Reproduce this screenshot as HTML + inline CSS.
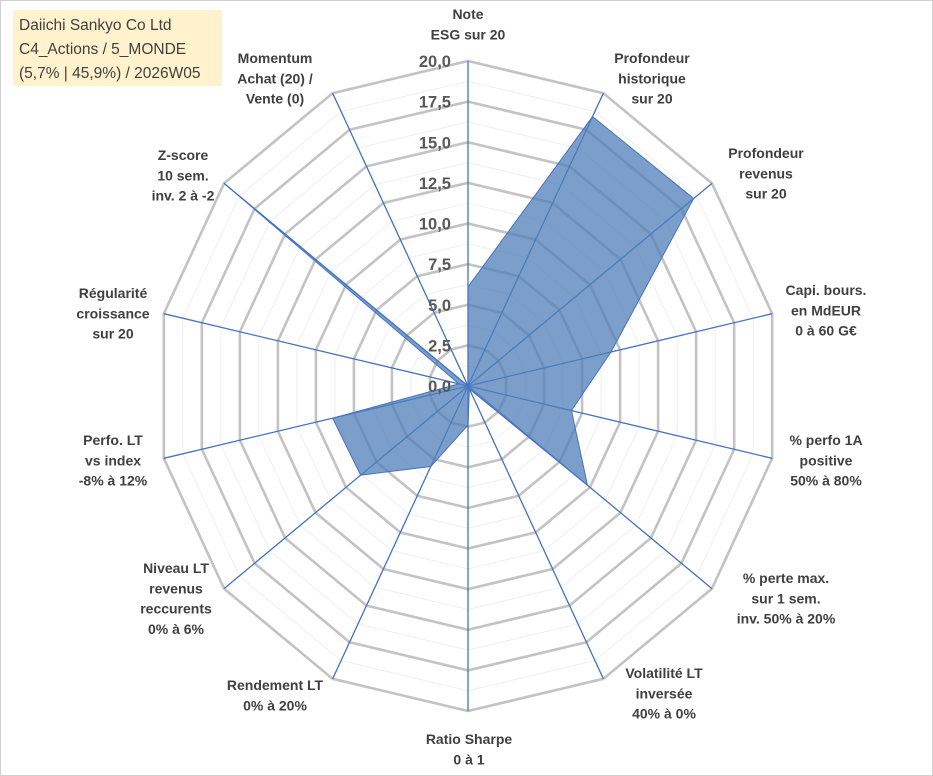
<!DOCTYPE html>
<html><head><meta charset="utf-8"><style>
html,body{margin:0;padding:0;background:#fff;}
svg{display:block;font-family:"Liberation Sans",sans-serif;}
</style></head><body>
<svg id="chart" width="933" height="776" viewBox="0 0 933 776">
<rect x="0.5" y="0.5" width="932" height="775" fill="#fff" stroke="#d0d0d0"/>
<g id="grid"></g>
<g id="axes"></g>
<g id="series"></g>
<g id="ticks"></g>
<g id="labels"></g>
<rect x="13" y="10" width="209" height="76" fill="#fff2cc"/>
<g font-size="15.5" fill="#404040">
<text x="19" y="30">Daiichi Sankyo Co Ltd</text>
<text x="19" y="54">C4_Actions / 5_MONDE</text>
<text x="19" y="78">(5,7% | 45,9%) / 2026W05</text>
</g>
</svg>
<script>
const categories=[["Note","ESG sur 20"],["Profondeur","historique","sur 20"],["Profondeur","revenus","sur 20"],["Capi. bours.","en MdEUR","0 à 60 G€"],["% perfo 1A","positive","50% à 80%"],["% perte max.","sur 1 sem.","inv. 50% à 20%"],["Volatilité LT","inversée","40% à 0%"],["Ratio Sharpe","0 à 1"],["Rendement LT","0% à 20%"],["Niveau LT","revenus","reccurents","0% à 6%"],["Perfo. LT","vs index","-8% à 12%"],["Régularité","croissance","sur 20"],["Z-score","10 sem.","inv. 2 à -2"],["Momentum","Achat (20) /","Vente (0)"]];
const values=[6.1,18.4,18.5,9.4,6.8,9.8,0.2,2.4,5.5,8.8,8.9,0.6,20,0];
const tickLabels=["0,0","2,5","5,0","7,5","10,0","12,5","15,0","17,5","20,0"];
const maxVal=20;
const labelPos=[[468,14],[652,58],[766,153],[826,290],[826,440],[786,578],[664,673],[469,739],[275,685],[176,568],[113,440],[113,293],[183,155],[275,58]];
const cx=468,cy=386,RX=312,RY=325;
const NS="http://www.w3.org/2000/svg";
const N=categories.length;
function pt(i,v){const a=i*2*Math.PI/N;const f=v/maxVal;return [cx+f*RX*Math.sin(a),cy-f*RY*Math.cos(a)];}
function mk(tag,attrs,parent){const e=document.createElementNS(NS,tag);for(const k in attrs)e.setAttribute(k,attrs[k]);parent.appendChild(e);return e;}
const grid=document.getElementById('grid');
for(let s=1;s<=16;s++){
  const v=s*1.25;
  const pts=[];for(let i=0;i<N;i++)pts.push(pt(i,v).join(','));
  const major=s%2===0;
  const p=mk('polygon',{points:pts.join(' '),fill:'none',stroke:major?'#c3c3c3':'#efefef','stroke-width':major?2.6:1},grid);
  
  
}
const axes=document.getElementById('axes');
for(let i=0;i<N;i++){
  const [x,y]=pt(i,maxVal);
  const l=mk('line',{x1:cx,y1:cy,x2:x,y2:y,stroke:'#4472c4','stroke-width':1.3},axes);
  
  
}
const series=document.getElementById('series');
const sp=values.map((v,i)=>pt(i,v).join(',')).join(' ');
const poly=mk('polygon',{points:sp,fill:'#4f7fb8','fill-opacity':0.75,stroke:'#4472c4','stroke-width':1},series);


const ticks=document.getElementById('ticks');
tickLabels.forEach((t,k)=>{
  const y=cy-k*(RY/(tickLabels.length-1));
  const e=mk('text',{x:451,y:y+6,'text-anchor':'end','font-size':16.5,'font-weight':'bold',fill:'#595959'},ticks);
  e.textContent=t;
  
  
});
const labels=document.getElementById('labels');
categories.forEach((lines,i)=>{
  const [x,y]=labelPos[i];
  const g=mk('g',{},labels);
  
  
  lines.forEach((ln,j)=>{
    const e=mk('text',{x:x,y:y+j*20.3+5,'text-anchor':'middle','font-size':14,'font-weight':'bold',fill:'#404040'},g);
    e.textContent=ln;
  });
});
</script>
</body></html>
